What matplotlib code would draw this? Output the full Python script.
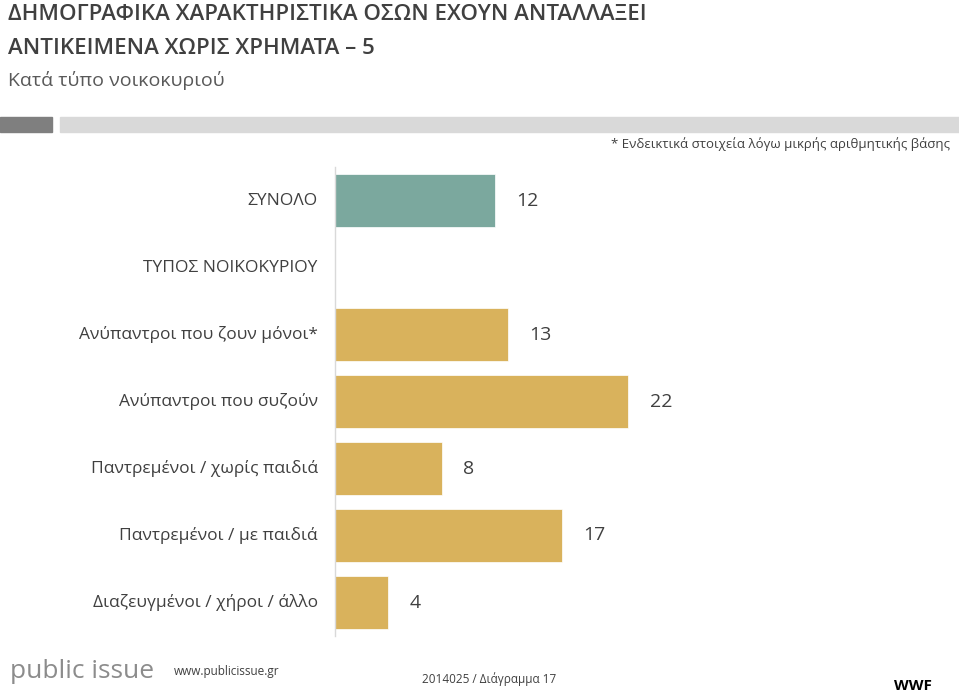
import matplotlib
matplotlib.use("Agg")
import matplotlib.pyplot as plt
from matplotlib.patches import Rectangle

plt.rcParams["font.family"] = ["Open Sans", "DejaVu Sans"]

categories = ["ΣΥΝΟΛΟ", "ΤΥΠΟΣ ΝΟΙΚΟΚΥΡΙΟΥ", "Ανύπαντροι που ζουν μόνοι*",
              "Ανύπαντροι που συζούν", "Παντρεμένοι / χωρίς παιδιά",
              "Παντρεμένοι / με παιδιά", "Διαζευγμένοι / χήροι / άλλο"]
values = [12, None, 13, 22, 8, 17, 4]
colors = ["#7BA89E", None, "#D9B25C", "#D9B25C", "#D9B25C", "#D9B25C", "#D9B25C"]

W, H = 959, 694
fig = plt.figure(figsize=(W/100, H/100), dpi=100)

x0, x1, ytop, ybot = 335, 959, 167, 636
ax = fig.add_axes([x0/W, 1-ybot/H, (x1-x0)/W, (ybot-ytop)/H])
n = len(categories)
ax.set_ylim(n-0.5, -0.5)
ax.set_xlim(0, (x1-x0)/13.33)
for i, (c, v, col) in enumerate(zip(categories, values, colors)):
    if v is not None:
        ax.barh(i, v, height=0.78, color=col, edgecolor="white", linewidth=0.5)
        ax.text(v + 1.6, i, str(v), va="center", ha="left", fontsize=14, color="#404040")
    ax.text(-1.3, i, c, va="center", ha="right", fontsize=12.5, color="#404040")
ax.axis("off")
ax.plot([0, 0], [-0.5, n-0.5], color="#D9D9D9", lw=1, clip_on=False)

fig.text(8/W, 1-14/H, "ΔΗΜΟΓΡΑΦΙΚΑ ΧΑΡΑΚΤΗΡΙΣΤΙΚΑ ΟΣΩΝ ΕΧΟΥΝ ΑΝΤΑΛΛΑΞΕΙ", fontsize=16, fontweight="semibold", color="#404040", va="center")
fig.text(8/W, 1-48/H, "ΑΝΤΙΚΕΙΜΕΝΑ ΧΩΡΙΣ ΧΡΗΜΑΤΑ – 5", fontsize=16, fontweight="semibold", color="#404040", va="center")
fig.text(8/W, 1-81/H, "Κατά τύπο νοικοκυριού", fontsize=14, color="#595959", va="center")
fig.patches.append(Rectangle((0, 1-132/H), 52/W, 15/H, transform=fig.transFigure, color="#7F7F7F"))
fig.patches.append(Rectangle((60/W, 1-132/H), 1-60/W, 15/H, transform=fig.transFigure, color="#D9D9D9"))
fig.text(950/W, 1-144/H, "* Ενδεικτικά στοιχεία λόγω μικρής αριθμητικής βάσης", fontsize=9.5, color="#404040", ha="right", va="center")

fig.text(10/W, 1-671/H, "public issue", fontsize=19, color="#8C8C8C", va="center")
fig.text(174/W, 1-672/H, "www.publicissue.gr", fontsize=8.5, color="#404040", va="center")
fig.text(422/W, 1-679/H, "2014025 / Διάγραμμα 17", fontsize=8.5, color="#404040", va="center")
fig.text(913/W, 1-686/H, "WWF", fontsize=11, fontweight="bold", color="black", ha="center", va="center")

fig.savefig("out.png", dpi=100)
